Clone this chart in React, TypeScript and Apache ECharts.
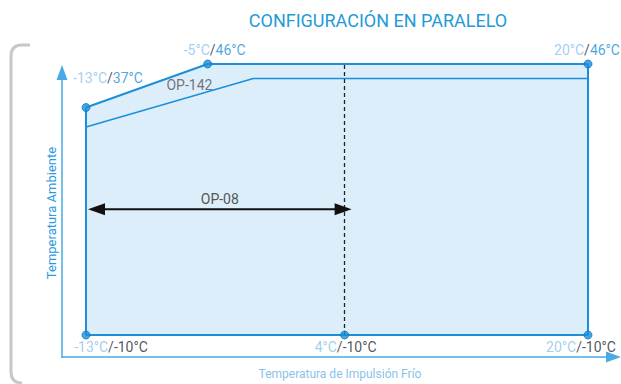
import React, { useEffect, useRef } from "react";
import * as echarts from "echarts";

// Operating envelope (x: impulsion temp °C, y: ambient temp °C)
const envelopeX = [-13, -13, -5, 20, 20, -13];
const envelopeY = [-10, 37, 46, 46, -10, -10];
// OP-142 limit line
const op142X = [-13, -2, 20];
const op142Y = [33, 43, 43];
const op142Label = "OP-142";
const op142LabelAt = [-6.2, 41.6];
// Marked corner points
const pointX = [-13, -5, 20, -13, 4, 20];
const pointY = [37, 46, 46, -10, -10, -10];
// OP-08 range
const op08Range = [-13, 4];
const op08Level = 16;
const op08Label = "OP-08";
// Divider
const dividerX = 4;
const yMin = -10;
const yMax = 46;
const xMin = -13;
const xMax = 20;

const title = "CONFIGURACIÓN EN PARALELO";
const xName = "Temperatura de Impulsión Frío";
const yName = "Temperatura Ambiente";

const FONT = "Roboto, 'Noto Sans', sans-serif";
const BLUE = "#1c8fd9";
const LIGHT = "#8ac3ea";
const DARK = "#1e2a36";
const AXIS = "#49aae4";

const labelOffsets = [
  [22, -30],
  [7, -14],
  [-1, -14],
  [25, 12],
  [1, 12],
  [-7, 12],
];

export default function App() {
  const ref = useRef<HTMLDivElement>(null);
  useEffect(() => {
    if (!ref.current) return;
    echarts.graphic.registerShape(
      "bracket",
      echarts.graphic.extendPath(
        "M 30 45 L 22 45 Q 11 45 11 56 L 11 372 Q 11 383 22 383",
        {}
      )
    );
    const chart = echarts.init(ref.current, null, { renderer: "svg" });

    const points = pointX.map((x, i) => {
      const y = pointY[i];
      const top = y > yMin;
      return {
        value: [x, y],
        label: {
          show: true,
          position: "inside",
          offset: labelOffsets[i],
          formatter: `{a|${x}°C}{s|/}{${top ? "b" : "c"}|${y}°C}`,
          rich: {
            a: { color: LIGHT, fontSize: 14, fontFamily: FONT },
            s: { color: DARK, fontSize: 14, fontFamily: FONT },
            b: { color: BLUE, fontSize: 14, fontFamily: FONT },
            c: { color: DARK, fontSize: 14, fontFamily: FONT },
          },
        },
      };
    });

    const option: any = {
      animation: false,
      grid: { left: 86, right: 33, top: 64, bottom: 49 },
      xAxis: {
        type: "value",
        min: xMin,
        max: xMax,
        axisLine: { show: false },
        axisTick: { show: false },
        axisLabel: { show: false },
        splitLine: { show: false },
      },
      yAxis: {
        type: "value",
        min: yMin,
        max: yMax,
        axisLine: { show: false },
        axisTick: { show: false },
        axisLabel: { show: false },
        splitLine: { show: false },
      },
      graphic: [
        {
          type: "bracket",
          x: 0,
          y: 0,
          style: { fill: "none", stroke: "#c8c8c8", lineWidth: 3 },
        },
        {
          type: "text",
          x: 378,
          y: 20,
          style: {
            text: title,
            fill: "#1f9ad8",
            font: `18px ${FONT}`,
            textAlign: "center",
            textVerticalAlign: "middle",
            align: "center",
            verticalAlign: "middle",
          },
        },
        {
          type: "line",
          shape: { x1: 62, y1: 358, x2: 62, y2: 78 },
          style: { stroke: AXIS, lineWidth: 1.5 },
        },
        {
          type: "polygon",
          shape: { points: [[62, 65], [56.5, 80], [67.5, 80]] },
          style: { fill: AXIS },
        },
        {
          type: "line",
          shape: { x1: 61.3, y1: 357, x2: 608, y2: 357 },
          style: { stroke: AXIS, lineWidth: 1.5 },
        },
        {
          type: "polygon",
          shape: { points: [[621, 357], [606, 351.5], [606, 362.5]] },
          style: { fill: AXIS },
        },
        {
          type: "text",
          x: 340,
          y: 374,
          style: {
            text: xName,
            fill: LIGHT,
            font: `12px ${FONT}`,
            textAlign: "center",
            textVerticalAlign: "middle",
            align: "center",
            verticalAlign: "middle",
          },
        },
        {
          type: "text",
          x: 51,
          y: 213,
          rotation: Math.PI / 2,
          style: {
            text: yName,
            fill: "#2a9ae0",
            font: `13px ${FONT}`,
            textAlign: "center",
            textVerticalAlign: "middle",
            align: "center",
            verticalAlign: "middle",
          },
        },
      ],
      series: [
        {
          type: "line",
          data: envelopeX.map((x, i) => [x, envelopeY[i]]),
          symbol: "none",
          lineStyle: { color: BLUE, width: 2 },
          areaStyle: { color: "#ddeefb", opacity: 1 },
          z: 2,
          markLine: {
            silent: true,
            symbol: "none",
            label: { show: false },
            lineStyle: { color: "#222", type: [4, 3], width: 1.3 },
            data: [[{ coord: [dividerX, yMin] }, { coord: [dividerX, yMax] }]],
          },
        },
        {
          type: "line",
          data: op142X.map((x, i) => [x, op142Y[i]]),
          symbol: "none",
          lineStyle: { color: BLUE, width: 1.5 },
          z: 3,
        },
        {
          type: "scatter",
          data: [{ value: op142LabelAt, name: op142Label }],
          symbolSize: 0,
          label: {
            show: true,
            position: "inside",
            formatter: "{b}",
            color: "#555",
            fontSize: 14,
            fontFamily: FONT,
          },
          z: 4,
        },
        {
          type: "custom",
          data: [[op08Range[0], op08Range[1], op08Level]],
          z: 5,
          renderItem: (params: any, api: any) => {
            const a = api.coord([api.value(0), api.value(2)]);
            const b = api.coord([api.value(1), api.value(2)]);
            const L = 17;
            const H = 6;
            const ax = a[0] + 2;
            const bx = b[0] + 7;
            return {
              type: "group",
              children: [
                {
                  type: "line",
                  shape: { x1: ax + L - 2, y1: a[1], x2: bx - L + 2, y2: b[1] },
                  style: { stroke: "#111", lineWidth: 2 },
                },
                {
                  type: "polygon",
                  shape: { points: [[ax, a[1]], [ax + L, a[1] - H], [ax + L, a[1] + H]] },
                  style: { fill: "#111" },
                },
                {
                  type: "polygon",
                  shape: { points: [[bx, b[1]], [bx - L, b[1] - H], [bx - L, b[1] + H]] },
                  style: { fill: "#111" },
                },
                {
                  type: "text",
                  x: (ax + bx) / 2,
                  y: a[1] - 10,
                  style: {
                    text: op08Label,
                    fill: "#555",
                    font: `14px ${FONT}`,
                    align: "center",
                    verticalAlign: "middle",
                  },
                },
              ],
            };
          },
        },
        {
          type: "scatter",
          data: points,
          symbol: "circle",
          symbolSize: 8,
          itemStyle: { color: BLUE, borderColor: "#0d78c0", borderWidth: 1 },
          z: 6,
        },
      ],
    };
    chart.setOption(option);
    return () => chart.dispose();
  }, []);
  return (
    <div
      ref={ref}
      style={{ position: "fixed", left: 0, top: 0, width: 621, height: 384, background: "#fff" }}
    />
  );
}
